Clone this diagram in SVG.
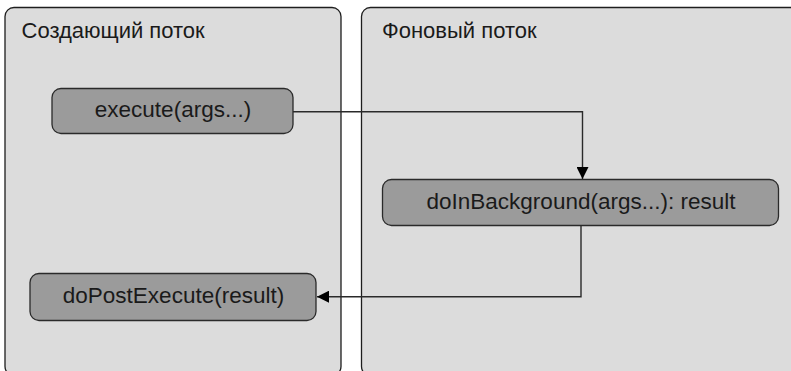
<svg xmlns="http://www.w3.org/2000/svg" width="791" height="371" viewBox="0 0 791 371">
  <style>
    .lane { fill: #dcdcdc; stroke: #1e1e1e; stroke-width: 1.3; }
    .lane-title { font-family: "Liberation Sans", Arial, sans-serif; font-size: 22px; fill: #1a1a1a; }
    .box { fill: #9b9b9b; stroke: #2a2a2a; stroke-width: 1.3; }
    .label { font-family: "Liberation Sans", Arial, sans-serif; font-size: 22.5px; fill: #1a1a1a; text-anchor: middle; }
    .wire { fill: none; stroke: #2a2a2a; stroke-width: 1.4; }
  </style>
  <defs>
    <marker id="arrow" viewBox="0 0 12 12" refX="12" refY="6" markerWidth="12" markerHeight="12" markerUnits="userSpaceOnUse" orient="auto">
      <path d="M0,0 L12,6 L0,12 Z" fill="#000"/>
    </marker>
  </defs>
  <rect width="791" height="371" fill="#ffffff"/>

  <!-- Thread lanes -->
  <g id="lane-caller">
    <rect class="lane" x="5" y="7.5" width="336" height="368" rx="9"/>
    <text class="lane-title" x="21.5" y="37.5">Создающий поток</text>
  </g>
  <g id="lane-background">
    <rect class="lane" x="361.5" y="7.5" width="440" height="368" rx="9"/>
    <text class="lane-title" x="382" y="37.5">Фоновый поток</text>
  </g>

  <!-- Calls -->
  <g id="node-execute">
    <rect class="box" x="52" y="88.5" width="241" height="45" rx="9"/>
    <text class="label" x="173" y="117">execute(args...)</text>
  </g>
  <g id="node-doInBackground">
    <rect class="box" x="382.5" y="179.5" width="396" height="46" rx="9"/>
    <text class="label" x="581" y="209">doInBackground(args...): result</text>
  </g>
  <g id="node-doPostExecute">
    <rect class="box" x="30" y="273.5" width="286" height="47" rx="9"/>
    <text class="label" x="173.5" y="303">doPostExecute(result)</text>
  </g>

  <!-- Control flow between threads -->
  <g id="connectors">
    <path class="wire" d="M293,111.7 H582.5 V179" marker-end="url(#arrow)"/>
    <path class="wire" d="M581,226 V296.7 H317" marker-end="url(#arrow)"/>
  </g>
</svg>
